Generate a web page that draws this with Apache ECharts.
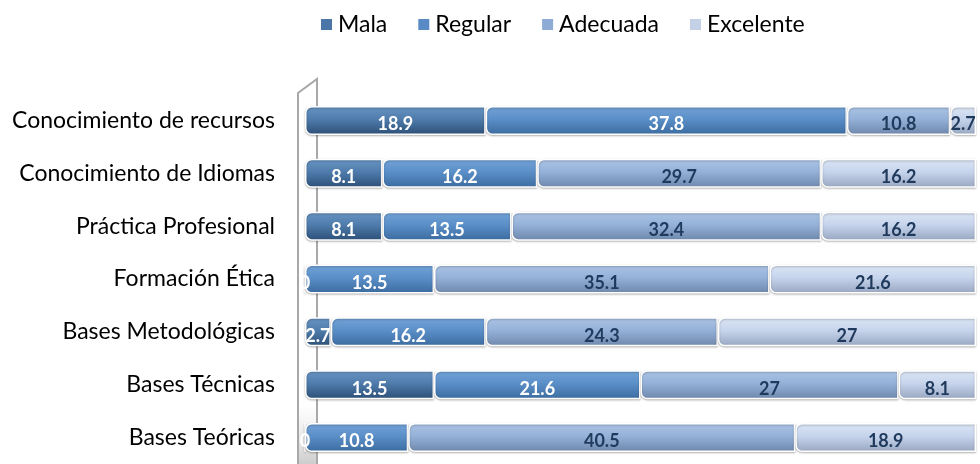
<!DOCTYPE html>
<html>
<head>
<meta charset="utf-8">
<script src="https://cdn.jsdelivr.net/npm/echarts@6/dist/echarts.min.js"></script>
<style>
html,body{margin:0;padding:0;background:#fff;}
#chart{width:980px;height:464px;}
</style>
</head>
<body>
<div id="chart"></div>
<script>
var categories = ["Conocimiento de recursos","Conocimiento de Idiomas","Práctica Profesional","Formación Ética","Bases Metodológicas","Bases Técnicas","Bases Teóricas"];
var seriesNames = ["Mala","Regular","Adecuada","Excelente"];
var mala      = [18.9, 8.1, 8.1, 0, 2.7, 13.5, 0];
var regular   = [37.8, 16.2, 13.5, 13.5, 16.2, 21.6, 10.8];
var adecuada  = [10.8, 29.7, 32.4, 35.1, 24.3, 27, 40.5];
var excelente = [2.7, 16.2, 16.2, 21.6, 27, 8.1, 18.9];

var FONT = "Lato";
var values = [mala, regular, adecuada, excelente];
var grads = [
  ["#6a96c4", "#4f7cac", "#2c4f77"],
  ["#74a4d8", "#5b8fc8", "#3b6b9f"],
  ["#adc5e6", "#95b1d8", "#6e87ab"],
  ["#dce6f5", "#c6d4ec", "#98a7c0"]
];
var legendColors = ["#4a76a8", "#5a8ac6", "#8eabd6", "#c3d0e6"];
var labelColors = ["#ffffff", "#ffffff", "#1f3a5c", "#1f3a5c"];

function grad(c){
  return new echarts.graphic.LinearGradient(0,0,0,1,[
    {offset:0,color:c[0]},{offset:0.45,color:c[1]},{offset:1,color:c[2]}
  ]);
}

var series = seriesNames.map(function(name, i){
  return {
    name: name,
    type: "bar",
    stack: "total",
    barWidth: 29,
    data: values[i],
    itemStyle: {
      color: grad(grads[i]),
      borderColor: "#ffffff",
      borderWidth: 1.5,
      borderRadius: [6,0,0,6],
      shadowColor: "rgba(0,0,0,0.25)",
      shadowBlur: 2,
      shadowOffsetY: 1
    },
    label: {
      show: true,
      position: "inside",
      offset: [0, 4],
      color: labelColors[i],
      fontFamily: FONT,
      fontWeight: "bold",
      fontSize: 18,
      formatter: function(p){ return String(p.value); }
    },
    emphasis: {disabled: true}
  };
});

var chart = echarts.init(document.getElementById("chart"));
chart.setOption({
  animation: false,
  backgroundColor: "#ffffff",
  legend: {
    left: 314,
    top: 8,
    itemWidth: 13,
    itemHeight: 13,
    itemGap: 29,
    icon: "rect",
    textStyle: {fontFamily: FONT, fontSize: 23, color: "#000"},
    data: seriesNames.map(function(n, i){ return {name: n, itemStyle: {color: legendColors[i]}}; })
  },
  graphic: [
    {
      type: "polyline",
      z: 0,
      shape: {points: [[298,470],[298,93],[317,79],[317,470]]},
      style: {stroke: "#a8a8a8", lineWidth: 2, fill: null}
    },
    {
      type: "rect",
      z: 0,
      shape: {x: 299, y: 405, width: 18, height: 60},
      style: {fill: new echarts.graphic.LinearGradient(0,0,0,1,[{offset:0,color:"rgba(200,200,200,0)"},{offset:1,color:"rgba(170,170,170,0.6)"}])}
    }
  ],
  grid: {left: 305, right: 4, top: 94, bottom: -2, containLabel: false},
  xAxis: {
    type: "value",
    min: 0,
    max: "dataMax",
    show: false
  },
  yAxis: {
    type: "category",
    inverse: true,
    data: categories,
    axisLine: {show: false},
    axisTick: {show: false},
    axisLabel: {margin: 30, fontFamily: FONT, fontSize: 23, color: "#000"}
  },
  series: series
});
</script>
</body>
</html>
